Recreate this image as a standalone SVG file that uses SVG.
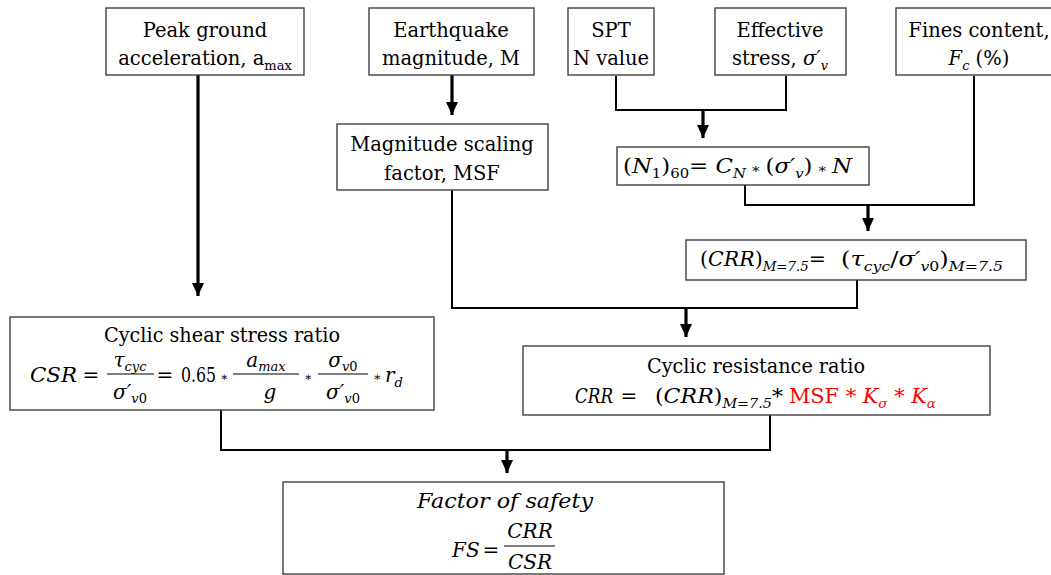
<svg xmlns="http://www.w3.org/2000/svg" width="1051" height="575" viewBox="0 0 1051 575">
<rect width="1051" height="575" fill="#fff"/>
<defs>
<marker id="ad" markerUnits="userSpaceOnUse" markerWidth="14" markerHeight="14" viewBox="0 0 14 14" refX="13" refY="7" orient="auto">
<path d="M0 1 L13 7 L0 13 Z" fill="#000"/>
</marker>
</defs>

<g id="connectors" fill="none" stroke="#000">
<path stroke-width="3.2" d="M198 75 V296" marker-end="url(#ad)"/>
<path stroke-width="3.2" d="M452 75 V115" marker-end="url(#ad)"/>
<path stroke-width="2" d="M616 76 V110 H786 V76"/>
<path stroke-width="3.2" d="M703 110 V138" marker-end="url(#ad)"/>
<path stroke-width="2" d="M745 185 V205 H974 V76"/>
<path stroke-width="3.2" d="M868 205 V231" marker-end="url(#ad)"/>
<path stroke-width="2" d="M452 190 V308 H857 V280"/>
<path stroke-width="3.2" d="M686 308 V337" marker-end="url(#ad)"/>
<path stroke-width="2" d="M221 410 V450 H770 V415"/>
<path stroke-width="3.2" d="M507 450 V473" marker-end="url(#ad)"/>
</g>

<g id="peak">
<rect x="106" y="8" width="198" height="67" fill="#fff" stroke="#404040" stroke-width="1.4"/>
<text font-family="DejaVu Serif" font-size="19.5" x="205" y="37" text-anchor="middle">Peak ground</text>
<text font-family="DejaVu Serif" font-size="19.5" x="205" y="65" text-anchor="middle">acceleration, a<tspan font-size="13" dy="5">max</tspan></text>
</g>

<g id="earthquake">
<rect x="369" y="8" width="165" height="67" fill="#fff" stroke="#404040" stroke-width="1.4"/>
<text font-family="DejaVu Serif" font-size="19.5" x="451" y="37" text-anchor="middle">Earthquake</text>
<text font-family="DejaVu Serif" font-size="19.5" x="451" y="65" text-anchor="middle">magnitude, M</text>
</g>

<g id="spt">
<rect x="568" y="8" width="86" height="67" fill="#fff" stroke="#404040" stroke-width="1.4"/>
<text font-family="DejaVu Serif" font-size="19.5" x="611" y="37" text-anchor="middle">SPT</text>
<text font-family="DejaVu Serif" font-size="19.5" x="611" y="65" text-anchor="middle">N value</text>
</g>

<g id="effective">
<rect x="715" y="8" width="131" height="67" fill="#fff" stroke="#404040" stroke-width="1.4"/>
<text font-family="DejaVu Serif" font-size="19.5" x="780" y="37" text-anchor="middle">Effective</text>
<text font-family="DejaVu Serif" font-size="19.5" x="780" y="65" text-anchor="middle">stress, <tspan font-style="italic">σ′</tspan><tspan font-style="italic" font-size="13" dy="5">v</tspan></text>
</g>

<g id="fines">
<rect x="896" y="8" width="160" height="67" fill="#fff" stroke="#404040" stroke-width="1.4"/>
<text font-family="DejaVu Serif" font-size="19.5" x="979" y="37" text-anchor="middle">Fines content,</text>
<text font-family="DejaVu Serif" font-size="19.5" x="979" y="65" text-anchor="middle"><tspan font-style="italic">F</tspan><tspan font-style="italic" font-size="13" dy="5">c</tspan><tspan dy="-5"> (%)</tspan></text>
</g>

<g id="msf">
<rect x="337" y="124" width="211" height="66" fill="#fff" stroke="#404040" stroke-width="1.4"/>
<text font-family="DejaVu Serif" font-size="19.5" x="442" y="151" text-anchor="middle">Magnitude scaling</text>
<text font-family="DejaVu Serif" font-size="19.5" x="442" y="180" text-anchor="middle">factor, MSF</text>
</g>

<g id="n160">
<rect x="617" y="147" width="252" height="38" fill="#fff" stroke="#404040" stroke-width="1.4"/>
<text font-family="DejaVu Serif" font-size="20" x="623" y="173" textLength="229" lengthAdjust="spacingAndGlyphs">(<tspan font-style="italic">N</tspan><tspan font-size="13" dy="5">1</tspan><tspan dy="-5">)</tspan><tspan font-size="13" dy="5">60</tspan><tspan dy="-5">= </tspan><tspan font-style="italic">C</tspan><tspan font-style="italic" font-size="13" dy="5">N</tspan><tspan font-size="13" dy="-5"> ∗ </tspan><tspan>(</tspan><tspan font-style="italic">σ′</tspan><tspan font-style="italic" font-size="13" dy="5">v</tspan><tspan dy="-5">)</tspan><tspan font-size="13"> ∗ </tspan><tspan font-style="italic">N</tspan></text>
</g>

<g id="crrm">
<rect x="686" y="240" width="340" height="40" fill="#fff" stroke="#404040" stroke-width="1.4"/>
<text font-family="DejaVu Serif" font-size="20" x="700" y="266" textLength="126" lengthAdjust="spacingAndGlyphs">(<tspan font-style="italic">CRR</tspan>)<tspan font-style="italic" font-size="13" dy="5">M=7.5</tspan><tspan dy="-5">=</tspan></text>
<text font-family="DejaVu Serif" font-size="20" x="841" y="266" textLength="162" lengthAdjust="spacingAndGlyphs">(<tspan font-style="italic">τ</tspan><tspan font-style="italic" font-size="13" dy="5">cyc</tspan><tspan dy="-5">/</tspan><tspan font-style="italic">σ′</tspan><tspan font-style="italic" font-size="13" dy="5">v</tspan><tspan font-size="13">0</tspan><tspan dy="-5">)</tspan><tspan font-style="italic" font-size="13" dy="5">M=7.5</tspan></text>
</g>

<g id="csr">
<rect x="10" y="317" width="424" height="93" fill="#fff" stroke="#404040" stroke-width="1.4"/>
<text font-family="DejaVu Serif" font-size="20" x="222" y="342" text-anchor="middle" textLength="236" lengthAdjust="spacingAndGlyphs">Cyclic shear stress ratio</text>
<text font-family="DejaVu Serif" font-size="20" font-style="italic" x="30" y="382" textLength="47" lengthAdjust="spacingAndGlyphs">CSR</text>
<text font-family="DejaVu Serif" font-size="20" x="91" y="382" text-anchor="middle">=</text>
<text font-family="DejaVu Serif" font-size="20" x="130" y="367" text-anchor="middle"><tspan font-style="italic">τ</tspan><tspan font-style="italic" font-size="13" dy="4">cyc</tspan></text>
<line x1="107" y1="374" x2="154" y2="374" stroke="#000" stroke-width="1.2"/>
<text font-family="DejaVu Serif" font-size="20" x="130" y="399" text-anchor="middle"><tspan font-style="italic">σ′</tspan><tspan font-style="italic" font-size="13" dy="4">v</tspan><tspan font-size="13">0</tspan></text>
<text font-family="DejaVu Serif" font-size="20" x="165" y="382" text-anchor="middle">=</text>
<text font-family="DejaVu Serif" font-size="20" x="181" y="382" textLength="35" lengthAdjust="spacingAndGlyphs">0.65</text>
<text font-family="DejaVu Serif" font-size="12" x="224" y="381" text-anchor="middle">∗</text>
<text font-family="DejaVu Serif" font-size="20" x="266" y="367" text-anchor="middle"><tspan font-style="italic">a</tspan><tspan font-style="italic" font-size="13" dy="4">max</tspan></text>
<line x1="233" y1="374" x2="299" y2="374" stroke="#000" stroke-width="1.2"/>
<text font-family="DejaVu Serif" font-size="20" font-style="italic" x="270" y="399" text-anchor="middle">g</text>
<text font-family="DejaVu Serif" font-size="12" x="308" y="381" text-anchor="middle">∗</text>
<text font-family="DejaVu Serif" font-size="20" x="343" y="367" text-anchor="middle"><tspan font-style="italic">σ</tspan><tspan font-style="italic" font-size="13" dy="4">v</tspan><tspan font-size="13">0</tspan></text>
<line x1="318" y1="374" x2="368" y2="374" stroke="#000" stroke-width="1.2"/>
<text font-family="DejaVu Serif" font-size="20" x="343" y="399" text-anchor="middle"><tspan font-style="italic">σ′</tspan><tspan font-style="italic" font-size="13" dy="4">v</tspan><tspan font-size="13">0</tspan></text>
<text font-family="DejaVu Serif" font-size="12" x="377" y="381" text-anchor="middle">∗</text>
<text font-family="DejaVu Serif" font-size="20" x="385" y="382"><tspan font-style="italic">r</tspan><tspan font-style="italic" font-size="13" dy="5">d</tspan></text>
</g>

<g id="crr">
<rect x="523" y="346" width="467" height="69" fill="#fff" stroke="#404040" stroke-width="1.4"/>
<text font-family="DejaVu Serif" font-size="20" x="756" y="373" text-anchor="middle" textLength="218" lengthAdjust="spacingAndGlyphs">Cyclic resistance ratio</text>
<text font-family="DejaVu Serif" font-size="20" font-style="italic" x="575" y="403" textLength="38" lengthAdjust="spacingAndGlyphs">CRR</text>
<text font-family="DejaVu Serif" font-size="20" x="629" y="403" text-anchor="middle">=</text>
<text font-family="DejaVu Serif" font-size="20" x="655" y="403" textLength="128" lengthAdjust="spacingAndGlyphs">(<tspan font-style="italic">CRR</tspan>)<tspan font-style="italic" font-size="13" dy="5">M=7.5</tspan><tspan dy="-5">*</tspan></text>
<text font-family="DejaVu Serif" font-size="20" fill="#ff0000" x="789" y="403" textLength="147" lengthAdjust="spacingAndGlyphs">MSF * <tspan font-style="italic">K</tspan><tspan font-style="italic" font-size="13" dy="5">σ</tspan><tspan dy="-5"> * </tspan><tspan font-style="italic">K</tspan><tspan font-style="italic" font-size="13" dy="5">α</tspan></text>
</g>

<g id="fs">
<rect x="283" y="482" width="441" height="92" fill="#fff" stroke="#404040" stroke-width="1.4"/>
<text font-family="DejaVu Serif" font-size="20" font-style="italic" x="505" y="508" text-anchor="middle" textLength="176" lengthAdjust="spacingAndGlyphs">Factor of safety</text>
<text font-family="DejaVu Serif" font-size="20" font-style="italic" x="452" y="557">FS</text>
<text font-family="DejaVu Serif" font-size="20" x="491" y="557" text-anchor="middle">=</text>
<text font-family="DejaVu Serif" font-size="20" font-style="italic" x="530" y="538" text-anchor="middle">CRR</text>
<line x1="504" y1="546" x2="555" y2="546" stroke="#000" stroke-width="1.2"/>
<text font-family="DejaVu Serif" font-size="20" font-style="italic" x="530" y="569" text-anchor="middle">CSR</text>
</g>
</svg>
